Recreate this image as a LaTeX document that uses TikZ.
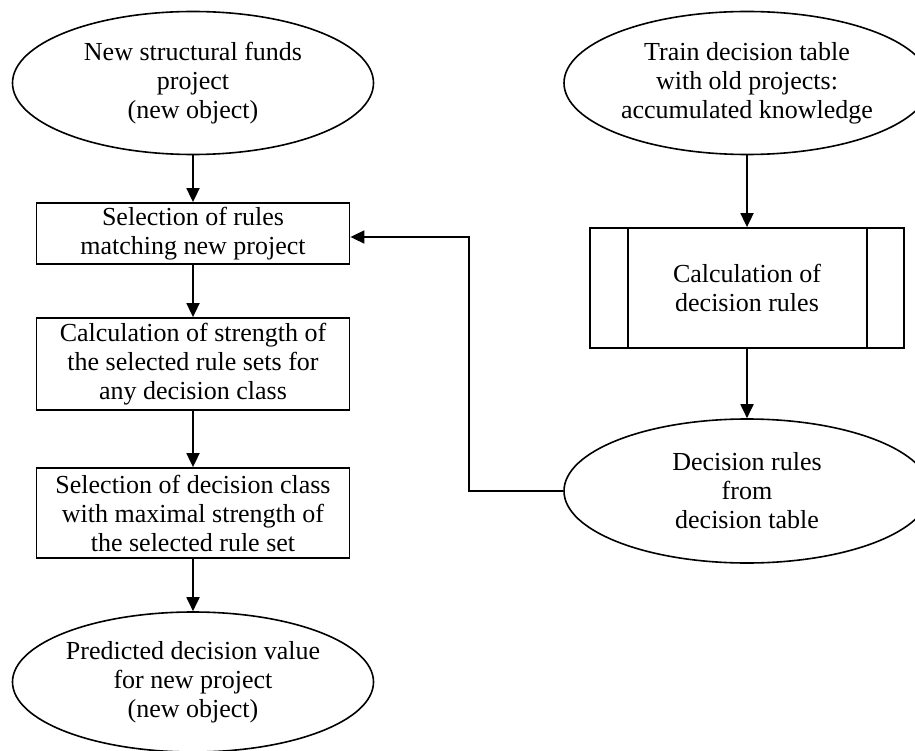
\documentclass[tikz,border=0pt]{standalone}
\usepackage{fontspec}
\setmainfont{Liberation Serif}
\usetikzlibrary{calc,shapes.geometric,arrows.meta}

\begin{document}
\begin{tikzpicture}[x=1pt,y=-1pt,
          every node/.style={font=\fontsize{26}{29}\selectfont,align=center,inner sep=0pt},
          oval/.style={draw,ellipse,line width=1.6pt,minimum width=361pt,minimum height=143pt},
          stepbox/.style={draw,rectangle,line width=1.8pt,minimum width=313pt},
          arr/.style={line width=1.8pt,-{Triangle[length=14pt,width=13pt]}}]
          \clip (0,0) rectangle (915,751);
          \node[oval] (newproj) at (193,83){New structural funds\\project\\(new object)};
          \node[stepbox,minimum height=61pt] (match) at (193,233.5){Selection of rules\\matching new project};
          \node[stepbox,minimum height=92pt] (strength) at (193,364){Calculation of strength of\\the selected rule sets for\\any decision class};
          \node[stepbox,minimum height=90pt] (maxclass) at (193,513){Selection of decision class\\with maximal strength of\\the selected rule set};
          \node[oval,minimum height=140pt] (predict) at (193,682){Predicted decision value\\for new project\\(new object)};
          \node[oval,minimum width=366pt] (train) at (747,83){Train decision table\\with old projects:\\accumulated knowledge};
          \node[stepbox,minimum width=314pt,minimum height=120pt] (calcrules) at (747,288){Calculation of\\decision rules};
          \draw[line width=1.8pt] ($(calcrules.north west)+(39,0)$) -- ($(calcrules.south west)+(39,0)$);
          \draw[line width=1.8pt] ($(calcrules.north east)+(-38,0)$) -- ($(calcrules.south east)+(-38,0)$);
          \node[oval,minimum width=366pt,minimum height=144pt] (rules) at (747,491){Decision rules\\from\\decision table};
          \coordinate (bend) at (469,237);
          \draw[arr] (newproj) -- (match);
          \draw[arr] (match) -- (strength);
          \draw[arr] (strength) -- (maxclass);
          \draw[arr] (maxclass) -- (predict);
          \draw[arr] (train) -- (calcrules);
          \draw[arr] (calcrules) -- (rules);
          \draw[arr] (rules.west) -| (bend) -- (match.east |- bend);
        \end{tikzpicture}
\end{document}
